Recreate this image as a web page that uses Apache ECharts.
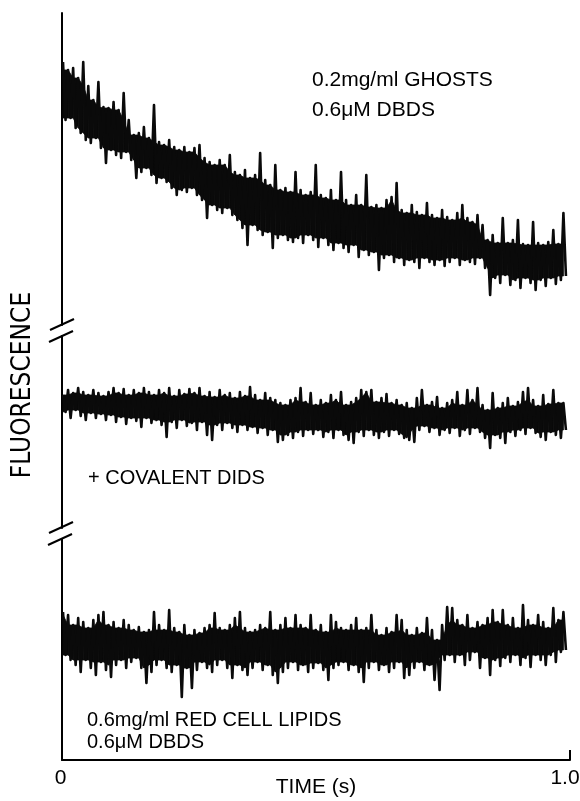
<!DOCTYPE html>
<html>
<head>
<meta charset="utf-8">
<script src="https://cdn.jsdelivr.net/npm/echarts@6/dist/echarts.min.js"></script>
<style>
html,body{margin:0;padding:0;background:#fff;}
#chart{width:580px;height:801px;}
</style>
</head>
<body>
<div id="chart"></div>
<script>
// Time base of the sampled traces (s)
const time0 = 0.002;
const step = 0.00995;
const xTicks = [0, 1.0];

// Trace 1: 0.2 mg/ml ghosts + 0.6 uM DBDS (upper / lower excursions, arbitrary units)
const ghostsHi = [263,255,257,247,263,239,225,243,218,217,
223,215,232,205,190,192,198,187,220,183,
180,185,178,175,178,173,177,180,167,163,
160,165,160,170,153,150,155,147,150,172,
145,140,160,135,137,133,153,135,130,133,
160,130,127,135,125,153,125,120,130,120,
150,118,120,117,125,128,142,115,112,120,
113,110,122,110,107,115,108,105,112,120,
107,103,110,100,85,90,82,107,82,85,
105,81,80,103,82,80,83,95,81,112];
const ghostsLo = [205,207,197,192,185,182,187,177,162,175,
170,167,173,165,147,153,157,150,142,147,
143,137,130,135,133,137,130,125,107,120,
115,112,117,110,105,97,80,100,95,90,
93,77,87,90,85,83,87,82,90,85,
78,87,80,75,82,77,73,80,68,75,
70,73,55,67,70,63,67,60,65,63,
57,67,63,60,65,59,63,67,60,65,
63,61,67,57,30,47,42,50,40,45,
37,47,42,35,45,39,47,41,45,49];

// Trace 2: + covalent DIDS
const didsHi = [128,133,130,135,131,128,133,130,127,131,
135,130,134,128,133,130,135,131,128,133,
130,135,127,133,129,134,130,135,127,131,
126,133,128,130,125,131,127,136,128,123,
130,125,123,120,118,123,125,135,121,130,
118,123,120,128,123,131,118,121,125,133,
131,133,121,125,129,120,123,118,120,115,
125,133,118,121,126,115,120,123,131,118,
133,123,135,118,113,130,115,120,125,117,
121,131,135,123,117,128,119,133,120,120];
const didsLo = [111,105,113,107,103,110,105,109,103,108,
101,106,99,105,102,96,105,100,103,98,
86,101,95,103,97,100,93,101,88,83,
98,93,100,95,91,98,93,96,90,95,
88,93,81,83,88,85,91,87,93,89,
93,86,91,85,93,88,83,80,91,87,
93,88,85,91,87,93,89,85,83,81,
93,97,91,95,88,93,90,95,87,93,
89,95,91,85,75,88,85,80,91,87,
93,89,95,90,86,83,91,88,85,93];

// Trace 3: 0.6 mg/ml red cell lipids + 0.6 uM DBDS
const lipidsHi = [148,145,135,142,138,132,140,145,148,135,
138,132,140,135,130,133,128,130,148,135,
130,150,132,128,135,125,130,127,132,135,
147,132,130,135,142,148,132,128,130,135,
132,148,130,135,142,132,145,135,132,145,
130,135,128,145,138,132,130,135,142,130,
132,145,130,125,132,128,145,140,130,125,
132,127,142,130,120,135,153,152,140,135,
145,132,138,135,142,150,138,150,135,142,
132,155,140,135,145,138,132,152,140,148];
const lipidsLo = [105,100,95,88,100,92,85,98,90,83,
95,100,92,98,102,92,77,88,95,100,
92,88,95,63,92,72,90,98,92,88,
95,100,92,82,95,90,85,92,98,90,
95,85,77,88,92,98,90,95,88,92,
97,90,80,92,95,98,90,95,88,78,
92,98,90,95,88,92,98,82,85,92,
98,90,95,80,70,100,105,98,105,95,
100,108,92,102,85,100,94,102,98,105,
95,102,93,105,100,95,105,98,108,110];

// Panel value ranges (arbitrary fluorescence units)
const panelRanges = [[0, 312], [-5, 187], [0, 221]];

// zig-zag trace through alternating upper / lower excursions
function zigzag(hi, lo) {
  const pts = [];
  for (let i = 0; i < hi.length; i++) {
    pts.push([time0 + i * step, hi[i]]);
    pts.push([time0 + (i + 0.5) * step, lo[i]]);
  }
  return pts;
}
// solid core of the trace: where neighbouring excursions overlap
function coreBand(hi, lo) {
  const n = hi.length, top = [], bot = [];
  for (let i = 0; i < n; i++) {
    const a = Math.max(0, i - 1), b = Math.min(n - 1, i + 1);
    top.push(Math.min(hi[a], hi[i], hi[b]));
    bot.push(Math.max(lo[a], lo[i], lo[b]));
  }
  const items = [];
  for (let i = 0; i < n - 1; i++) {
    items.push([time0 + i * step, top[i], bot[i], time0 + (i + 1) * step, top[i + 1], bot[i + 1]]);
  }
  return items;
}

const FONT = '"Liberation Sans", Arial, sans-serif';
const INK = '#0a0a0a';
const chart = echarts.init(document.getElementById('chart'), null, {renderer: 'canvas'});

const grids = [
  {left: 62, right: 10, top: 13, height: 312, outerBoundsMode: 'none', containLabel: false},
  {left: 62, right: 10, top: 336, height: 192, outerBoundsMode: 'none', containLabel: false},
  {left: 62, right: 10, top: 539, height: 221, outerBoundsMode: 'none', containLabel: false}
];

const yAxes = panelRanges.map((r, k) => ({
  type: 'value', gridIndex: k, min: r[0], max: r[1],
  axisLine: {show: true, lineStyle: {color: '#000', width: 2}},
  axisTick: {show: false}, axisLabel: {show: false}, splitLine: {show: false}
}));

const xAxes = [0, 1, 2].map(k => ({
  type: 'value', gridIndex: k, min: xTicks[0], max: xTicks[1], interval: 1,
  show: k === 2,
  axisLine: {show: true, onZero: false, lineStyle: {color: '#000', width: 2}},
  axisTick: {show: true, inside: true, length: 10, lineStyle: {color: '#000', width: 2}},
  axisLabel: {
    show: true, color: '#000', fontSize: 21, fontFamily: FONT, margin: 8,
    formatter: v => (v === 0 ? '{a|0}' : '{b|' + v.toFixed(1) + '}'),
    rich: {
      a: {fontSize: 21, fontFamily: FONT, color: '#000', padding: [0, 3, 0, 0]},
      b: {fontSize: 21, fontFamily: FONT, color: '#000', padding: [0, 10, 0, 0]}
    }
  },
  splitLine: {show: false},
  name: k === 2 ? 'TIME (s)' : '',
  nameLocation: 'middle', nameGap: 17, nameMoveOverlap: false,
  nameTextStyle: {color: '#000', fontSize: 21, fontFamily: FONT, verticalAlign: 'top'}
}));

const raw = [[ghostsHi, ghostsLo], [didsHi, didsLo], [lipidsHi, lipidsLo]];
const series = [];
raw.forEach((p, k) => {
  series.push({
    type: 'custom', xAxisIndex: k, yAxisIndex: k, data: coreBand(p[0], p[1]),
    encode: {x: [0, 3], y: [1, 2, 4, 5]}, clip: true, silent: true,
    renderItem: function (params, api) {
      const a = api.coord([api.value(0), api.value(1)]);
      const b = api.coord([api.value(3), api.value(4)]);
      const c = api.coord([api.value(3), api.value(5)]);
      const d = api.coord([api.value(0), api.value(2)]);
      return {type: 'polygon', shape: {points: [a, b, c, d]}, style: {fill: INK, stroke: INK, lineWidth: 0.8}};
    }
  });
  series.push({
    type: 'line', xAxisIndex: k, yAxisIndex: k, data: zigzag(p[0], p[1]),
    showSymbol: false, symbol: 'none', sampling: null,
    lineStyle: {color: INK, width: 2.6, join: 'round'}, clip: true
  });
});

function txt(text, x, y, size) {
  return {type: 'text', x: x, y: y,
    style: {text: text, fill: '#000', font: size + 'px ' + FONT, verticalAlign: 'middle', align: 'left'}};
}

chart.setOption({
  animation: false,
  backgroundColor: '#fff',
  grid: grids,
  xAxis: xAxes,
  yAxis: yAxes,
  series: series
});

// Axis-break marks and annotations, placed from the axes
const ax = chart.convertToPixel({xAxisIndex: 2}, 0);
const b1 = (chart.convertToPixel({yAxisIndex: 0}, panelRanges[0][0]) + chart.convertToPixel({yAxisIndex: 1}, panelRanges[1][1])) / 2;
const b2 = (chart.convertToPixel({yAxisIndex: 1}, panelRanges[1][0]) + chart.convertToPixel({yAxisIndex: 2}, panelRanges[2][1])) / 2;
function slash(cx, cy) {
  return {type: 'line', shape: {x1: cx - 12, y1: cy + 5.5, x2: cx + 12, y2: cy - 5.5},
          style: {stroke: '#000', lineWidth: 2}};
}
chart.setOption({
  graphic: [
    slash(ax, b1 - 6), slash(ax - 1, b1 + 6),
    slash(ax - 1, b2 - 6), slash(ax - 2, b2 + 6),
    txt('0.2mg/ml GHOSTS', 312, 80, 21),
    txt('0.6\u03bcM DBDS', 312, 110, 21),
    txt('+ COVALENT DIDS', 88, 478, 20),
    txt('0.6mg/ml RED CELL LIPIDS', 87, 720, 20),
    txt('0.6\u03bcM DBDS', 87, 742, 20),
    {type: 'text', x: 23, y: 385, rotation: Math.PI / 2,
     style: {text: 'FLUORESCENCE', fill: '#000', font: '26px "Liberation Sans Narrow", "DejaVu Sans Condensed", sans-serif',
             align: 'center', verticalAlign: 'middle'}}
  ]
});
</script>
</body>
</html>
